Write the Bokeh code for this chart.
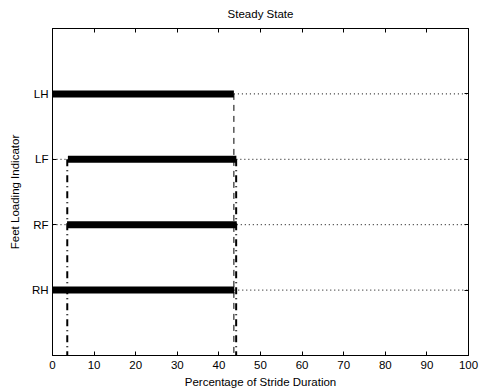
from bokeh.plotting import figure
from bokeh.models import LinearAxis, FixedTicker, Range1d, Title
from bokeh.embed import file_html
from bokeh.resources import INLINE

# Data
feet = ["RH", "RF", "LF", "LH"]
feet_pos = [1, 2, 3, 4]
stance_start = [0.0, 3.5, 3.7, 0.0]
stance_end = [43.7, 44.3, 44.2, 43.6]
x_ticks = [0, 10, 20, 30, 40, 50, 60, 70, 80, 90, 100]

# vertical event markers (x position, top level in feet index)
dashed_x = [43.6]
dashed_top = [4]
dashdot_x = [3.55, 44.15]
dashdot_top = [3, 3]

FONT = "Liberation Sans"

p = figure(width=480, height=391, output_backend="svg", toolbar_location=None,
           x_range=Range1d(0, 100), y_range=Range1d(0, 5),
           min_border_left=52, min_border_right=12, min_border_top=27,
           min_border_bottom=36, x_axis_location=None, y_axis_location=None)
p.title = None
p.xgrid.visible = False
p.ygrid.visible = False
p.outline_line_color = "black"
p.outline_line_width = 1
p.background_fill_color = "white"
p.border_fill_color = "white"


def make_axis(ticks, labels=True, override=None):
    ax = LinearAxis(ticker=FixedTicker(ticks=ticks))
    ax.major_tick_in = 4
    ax.major_tick_out = 0
    ax.minor_tick_line_color = None
    ax.axis_line_color = "black"
    ax.major_tick_line_color = "black"
    ax.major_label_text_font = FONT
    ax.major_label_text_font_size = "11.5px"
    ax.major_label_text_color = "black"
    ax.axis_label_text_font = FONT
    ax.axis_label_text_font_size = "11.5px"
    ax.axis_label_text_font_style = "normal"
    ax.axis_label_text_color = "black"
    if override:
        ax.major_label_overrides = override
    if not labels:
        ax.major_label_text_color = None
        ax.major_label_text_font_size = "1px"
        ax.major_label_standoff = 0
    return ax


xb = make_axis(x_ticks)
xb.axis_label = "Percentage of Stride Duration"
xb.major_label_standoff = 5
xb.axis_label_standoff = 4
p.add_layout(xb, "below")

yl = make_axis(feet_pos, override={k: v for k, v in zip(feet_pos, feet)})
yl.axis_label = "Feet Loading Indicator"
yl.major_label_standoff = 4
yl.axis_label_standoff = 8
p.add_layout(yl, "left")

xt = make_axis(x_ticks, labels=False)
p.add_layout(xt, "above")
yr = make_axis(feet_pos, labels=False)
p.add_layout(yr, "right")

title = Title(text="Steady State", align="center", text_font=FONT,
              text_font_size="11.5px", text_font_style="normal",
              text_color="black", vertical_align="top", standoff=14)
p.add_layout(title, "above")

# swing phases (dotted)
sx0, sx1, sy = [], [], []
for y, s, e in zip(feet_pos, stance_start, stance_end):
    if s > 0:
        sx0.append(0); sx1.append(s); sy.append(y)
    sx0.append(e); sx1.append(100); sy.append(y)
p.segment(x0=sx0, y0=sy, x1=sx1, y1=sy, line_color="black", line_width=1,
          line_dash="1 3")

# vertical event markers
p.segment(x0=dashed_x, y0=dashed_top, x1=dashed_x, y1=[0] * len(dashed_x),
          line_color="black", line_width=1, line_dash="6 5")
p.segment(x0=dashdot_x, y0=dashdot_top, x1=dashdot_x, y1=[0] * len(dashdot_x),
          line_color="black", line_width=2, line_dash="7 4 1 4")

# stance phases (thick bars)
p.segment(x0=stance_start, y0=feet_pos, x1=stance_end, y1=feet_pos,
          line_color="black", line_width=7, line_cap="butt")

open("out.html", "w").write(file_html(p, INLINE))
